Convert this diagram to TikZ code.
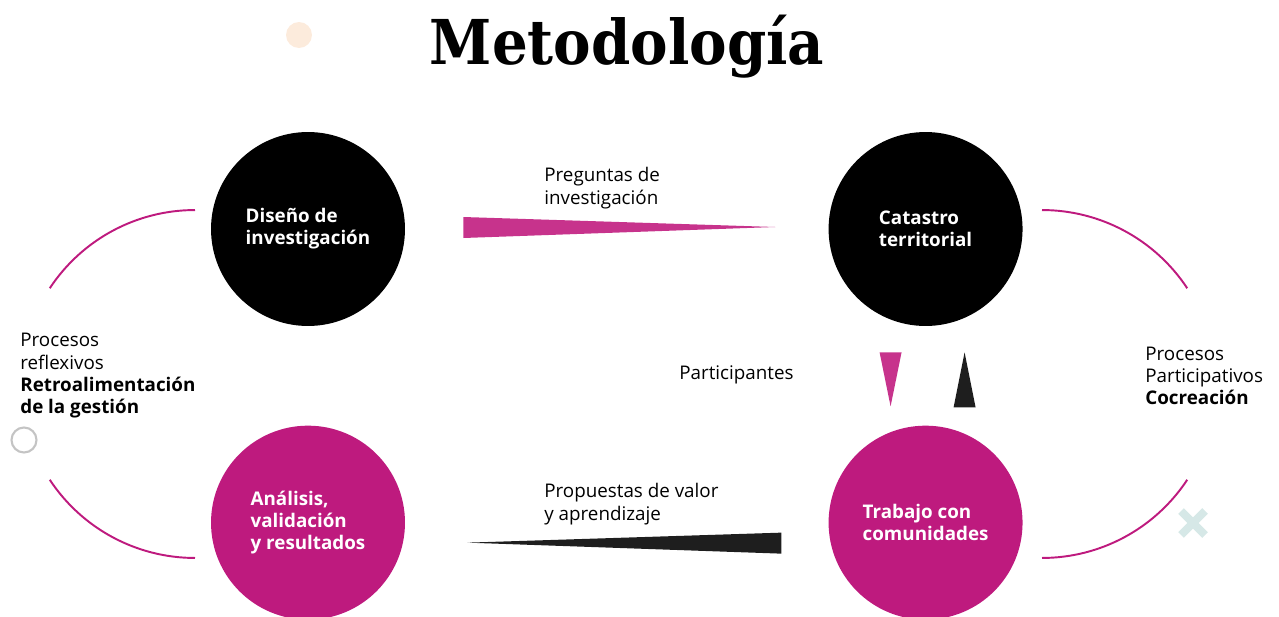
\documentclass[tikz,border=0pt]{standalone}
\usepackage{fontspec}
\setmainfont{Open Sans}
\newfontfamily\titlefont{DejaVu Serif}
\usetikzlibrary{positioning,calc}
\definecolor{mag}{HTML}{BE1A7E}
\definecolor{rosa}{HTML}{C7338C}
\definecolor{ink}{HTML}{1E1E1E}
\definecolor{peach}{HTML}{FCEBDC}
\definecolor{greyring}{HTML}{C4C4C4}
\definecolor{mint}{HTML}{D6E8E7}

\begin{document}
\begin{tikzpicture}[x=0.02cm,y=-0.02cm,
  font=\fontsize{10.7}{12.7}\selectfont,
  hub/.style={circle,minimum size=3.88cm,inner sep=0pt,align=left,text=white,font=\fontsize{10.7}{12.6}\selectfont\bfseries},
  lbl/.style={inner sep=0pt,align=left,anchor=west},
  bow/.style={draw=mag,line width=1.1pt}]
\useasboundingbox (0,0) rectangle (1279,616);
\node[anchor=base,inner sep=0pt,font=\titlefont\bfseries\fontsize{32}{36}\selectfont] (tit) at (627,64) {\scalebox{1}[1.1]{Metodología}};
% four stages
\node[hub,fill=black] (dis) at (308,229) {Diseño de\\investigación};
\node[hub,fill=black,right=8.46cm of dis] (cat) {Catastro\\territorial};
\node[hub,fill=mag,below=1.98cm of dis] (ana) {Análisis,\\validación\\y resultados};
\node[hub,fill=mag,below=1.98cm of cat] (tra) {Trabajo con\\comunidades};
% wedges between stages
\fill[rosa] ($(dis.east)+(58,-12)$) -- ($(cat.west)+(-53,-2)$) -- ($(dis.east)+(58,9)$) -- cycle;
\fill[ink] ($(ana.east)+(62,20)$) -- ($(tra.west)+(-47,10)$) -- ($(tra.west)+(-47,31)$) -- cycle;
\fill[rosa] ($(cat.south)+(-46,26)$) -- ($(cat.south)+(-24,26)$) -- ($(cat.south)+(-35,80)$) -- cycle;
\fill[ink] ($(cat.south)+(39,26)$) -- ($(cat.south)+(50,81)$) -- ($(cat.south)+(28,81)$) -- cycle;
% labels
\node[lbl] (pre) at (544,188) {Preguntas de\\investigación};
\node[lbl] (pro) at (544,504) {Propuestas de valor\\y aprendizaje};
\node[lbl] (par) at (679,375) {Participantes};
\node[lbl] (ref) at (20,376) {Procesos\\reflexivos\\\textbf{Retroalimentación}\\\textbf{de la gestión}};
\node[lbl] (cre) at (1145,376) {Procesos\\Participativos\\\textbf{Cocreación}};
% side arcs
\coordinate (lc) at (195,384);
\coordinate (rc) at (1042,384);
\draw[bow] ([shift={(90:3.48cm)}]lc) arc[start angle=90,end angle=146.6,radius=3.48cm];
\draw[bow] ([shift={(213.4:3.48cm)}]lc) arc[start angle=213.4,end angle=270,radius=3.48cm];
\draw[bow] ([shift={(90:3.48cm)}]rc) arc[start angle=90,end angle=33.4,radius=3.48cm];
\draw[bow] ([shift={(-33.4:3.48cm)}]rc) arc[start angle=-33.4,end angle=-90,radius=3.48cm];
% decorations
\fill[peach] (299,35) circle[radius=0.26cm];
\draw[greyring,line width=1.2pt] (24,440) circle[radius=0.25cm];
\draw[mint,line width=0.16cm] (1181,511) -- (1205,535) (1205,511) -- (1181,535);
\end{tikzpicture}
\end{document}
